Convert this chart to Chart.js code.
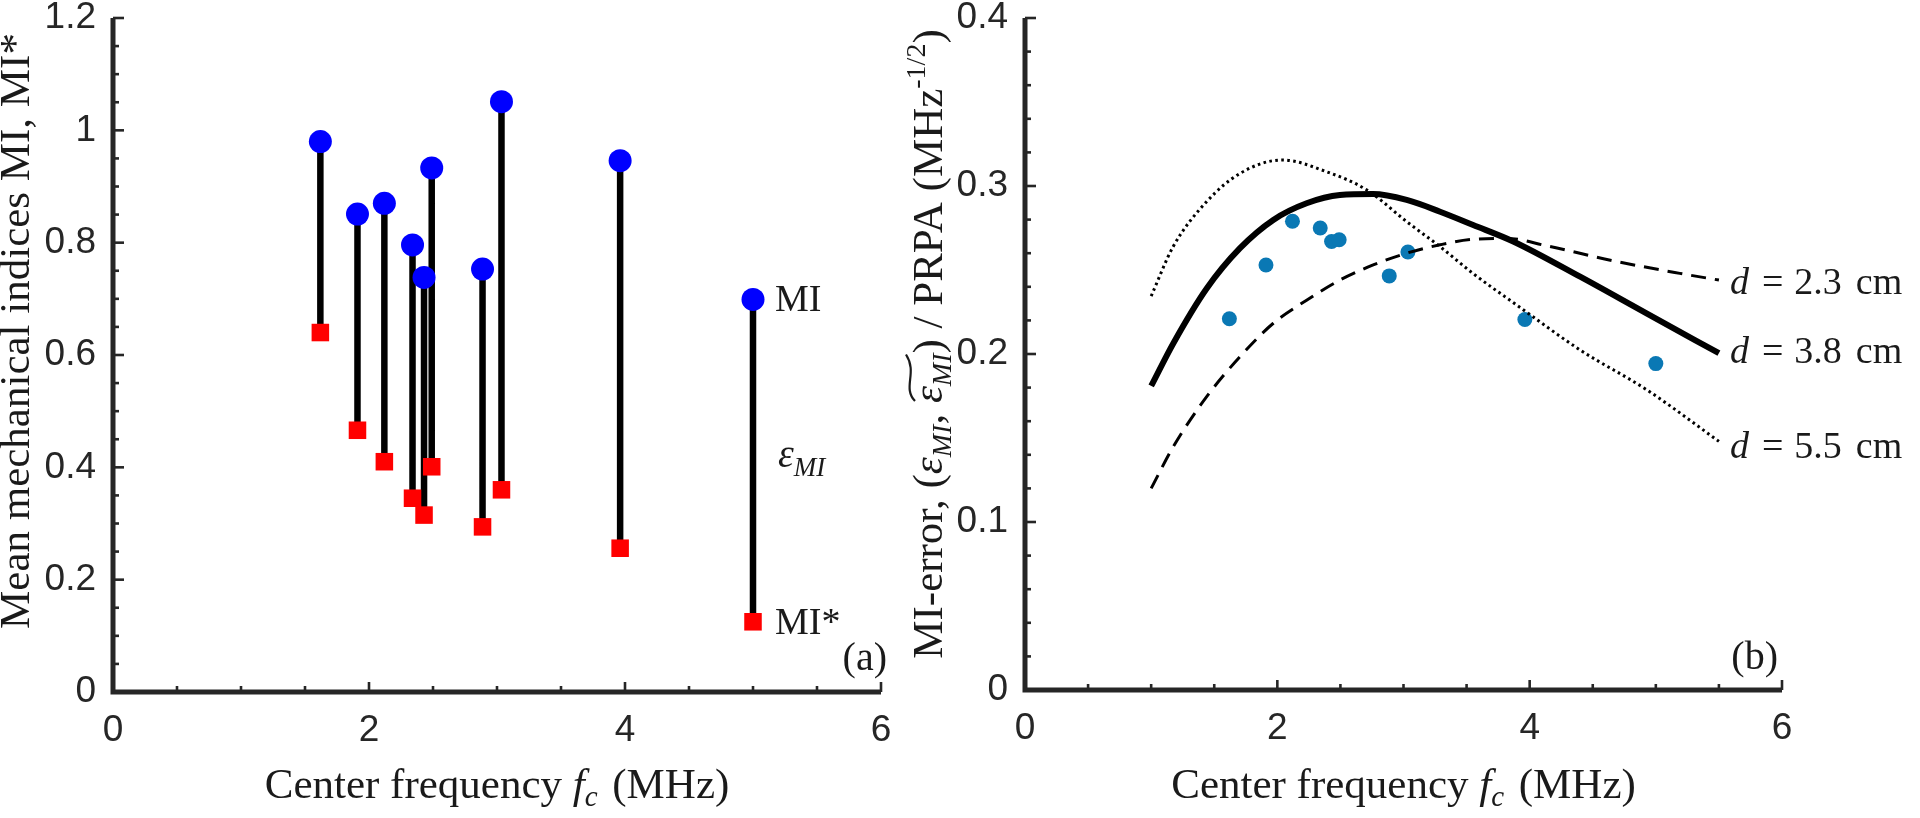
<!DOCTYPE html>
<html>
<head>
<meta charset="utf-8">
<script src="https://cdn.jsdelivr.net/npm/chart.js@4.4.1/dist/chart.umd.min.js"></script>
<style>
html,body{margin:0;padding:0;background:#fff;width:1920px;height:818px;overflow:hidden}
#cA{position:absolute;left:0;top:0}
#cB{position:absolute;left:880px;top:0}
</style>
</head>
<body>
<canvas id="cA" width="960" height="818"></canvas>
<canvas id="cB" width="1040" height="818"></canvas>
<script>
// ---------- data ----------
const freq       = [1.62, 1.91, 2.12, 2.34, 2.43, 2.49, 2.887, 3.035, 3.962, 5.0];
const miValues   = [0.980, 0.851, 0.870, 0.796, 0.738, 0.933, 0.753, 1.051, 0.946, 0.699];
const miStar     = [0.640, 0.466, 0.410, 0.345, 0.315, 0.401, 0.294, 0.360, 0.256, 0.125];
const miError    = [0.221, 0.253, 0.279, 0.275, 0.267, 0.268, 0.2465, 0.2607, 0.2205, 0.1943];

const curve23X = [1.0, 1.175, 1.44, 1.704, 1.968, 2.232, 2.496, 2.76, 3.025, 3.29, 3.552, 3.82, 4.13, 4.66, 5.19, 5.5];
const curve23Y = [0.120, 0.1448, 0.1746, 0.1984, 0.2183, 0.232, 0.244, 0.253, 0.260, 0.265, 0.2683, 0.2688, 0.2645, 0.2555, 0.248, 0.244];
const curve38X = [1.0, 1.175, 1.44, 1.704, 1.968, 2.232, 2.496, 2.76, 3.025, 3.29, 3.552, 3.87, 4.40, 4.93, 5.5];
const curve38Y = [0.181, 0.2063, 0.239, 0.263, 0.2798, 0.2897, 0.2946, 0.2952, 0.2917, 0.2847, 0.2768, 0.267, 0.246, 0.224, 0.2005];
const curve55X = [1.0, 1.175, 1.44, 1.704, 2.04, 2.39, 2.71, 3.025, 3.29, 3.55, 3.9, 4.4, 4.93, 5.5];
const curve55Y = [0.2345, 0.264, 0.2907, 0.3075, 0.3155, 0.3085, 0.2976, 0.2788, 0.2639, 0.248, 0.229, 0.2024, 0.1786, 0.148];
const depthLabels = ['2.3', '3.8', '5.5'];

const xRange = [0, 6];   const xMajor = 2;   const xMinor = 0.5;
const yRangeA = [0, 1.2]; const yMajorA = 0.2; const yMinorA = 0.05;
const yRangeB = [0, 0.4]; const yMajorB = 0.1; const yMinorB = 0.02;

// ---------- styling ----------
const AXIS = '#262626';
const TEXT = '#1a1a1a';
const SERIF = '"Liberation Serif", "Times New Roman", serif';
const SANS = '"Liberation Sans", Arial, sans-serif';
Chart.defaults.font.family = SANS;
Chart.defaults.color = AXIS;

function sf(size, italic) { return (italic ? 'italic ' : '') + size + 'px ' + SERIF; }
function steps(a, b, s) { const out = []; const n = Math.round((b - a) / s); for (let i = 0; i <= n; i++) out.push(+(a + i * s).toFixed(6)); return out; }

function drawRich(ctx, parts, x, y, align, rot) {
  ctx.save();
  ctx.translate(x, y);
  if (rot) ctx.rotate(rot);
  ctx.textBaseline = 'alphabetic';
  ctx.textAlign = 'left';
  ctx.fillStyle = TEXT;
  ctx.strokeStyle = TEXT;
  const ws = parts.map(p => { if (p.gap !== undefined) return p.gap; ctx.font = p.font; return ctx.measureText(p.t).width; });
  const total = ws.reduce((a, b) => a + b, 0);
  let cx = align === 'center' ? -total / 2 : (align === 'right' ? -total : 0);
  const marks = {};
  parts.forEach((p, i) => {
    if (p.mark) marks[p.mark] = cx;
    if (p.t) { ctx.font = p.font; ctx.fillText(p.t, cx, p.dy || 0); }
    cx += ws[i];
  });
  if (marks.ts !== undefined && marks.te !== undefined) {
    const a = marks.ts + 2, b = marks.te - 1, w = b - a;
    ctx.lineWidth = 2.2;
    ctx.beginPath();
    ctx.moveTo(a, -27);
    ctx.bezierCurveTo(a + w * 0.3, -40, a + w * 0.6, -24, b, -36);
    ctx.stroke();
  }
  ctx.restore();
}

const matAxes = {
  id: 'matAxes',
  afterDatasetsDraw(chart, args, o) {
    const { ctx, chartArea: ca, scales: { x, y } } = chart;
    ctx.save();
    ctx.strokeStyle = AXIS;
    ctx.lineCap = 'butt';
    ctx.lineWidth = 2.6;
    const isMajor = (v, s) => Math.abs(v / s - Math.round(v / s)) < 1e-6;
    steps(x.min, x.max, o.xMinor).forEach(v => {
      if (v === x.min) return;
      const px = x.getPixelForValue(v);
      const L = isMajor(v, o.xMajor) ? 10 : 6;
      ctx.beginPath(); ctx.moveTo(px, ca.bottom); ctx.lineTo(px, ca.bottom - L); ctx.stroke();
    });
    steps(y.min, y.max, o.yMinor).forEach(v => {
      if (v === y.min) return;
      const py = y.getPixelForValue(v);
      const L = isMajor(v, o.yMajor) ? 11 : 6;
      ctx.beginPath(); ctx.moveTo(ca.left, py); ctx.lineTo(ca.left + L, py); ctx.stroke();
    });
    ctx.lineWidth = 5;
    ctx.lineJoin = 'miter';
    ctx.beginPath();
    ctx.moveTo(ca.left, ca.top);
    ctx.lineTo(ca.left, ca.bottom);
    ctx.lineTo(ca.right, ca.bottom);
    ctx.stroke();
    ctx.restore();
  }
};

function scaleFix(kind, size) {
  return s => {
    if (kind === 'x') s.height = size; else s.width = size;
    s.paddingTop = 0; s.paddingBottom = 0; s.paddingLeft = 0; s.paddingRight = 0;
  };
}
const fmt = v => String(+Number(v).toFixed(3));

// ---------- left chart (a) ----------
const stemData = [];
freq.forEach((f, i) => {
  stemData.push({ x: f, y: miStar[i] }, { x: f, y: miValues[i] }, { x: f, y: null });
});

const textA = {
  id: 'textA',
  afterDraw(chart) {
    const { ctx, chartArea: ca, scales: { x, y } } = chart;
    const n = freq.length - 1;
    const lx = x.getPixelForValue(freq[n]);
    drawRich(ctx, [{ t: 'Mean mechanical indices MI, MI*', font: sf(43) }], 29, 331, 'center', -Math.PI / 2);
    drawRich(ctx, [
      { t: 'Center frequency ', font: sf(43) },
      { t: 'f', font: sf(43, true) },
      { t: 'c', font: sf(29, true), dy: 8 },
      { gap: 4 },
      { t: ' (MHz)', font: sf(43) }
    ], (ca.left + ca.right) / 2, 798, 'center');
    drawRich(ctx, [{ t: 'MI', font: sf(38) }], lx + 22, y.getPixelForValue(miValues[n]) + 12, 'left');
    drawRich(ctx, [{ t: 'MI*', font: sf(38) }], lx + 22, y.getPixelForValue(miStar[n]) + 12, 'left');
    drawRich(ctx, [
      { t: 'ε', font: sf(40, true) },
      { t: 'MI', font: sf(27, true), dy: 9 }
    ], lx + 25, 467, 'left');
    drawRich(ctx, [{ t: '(a)', font: sf(40) }], ca.right + 6, 670, 'right');
  }
};

new Chart(document.getElementById('cA'), {
  type: 'scatter',
  data: {
    datasets: [
      { type: 'line', data: stemData, showLine: true, spanGaps: false, borderColor: '#000', borderWidth: 6.5,
        borderCapStyle: 'butt', pointRadius: 0, order: 3 },
      { data: freq.map((f, i) => ({ x: f, y: miStar[i] })), pointStyle: 'rect', pointRadius: 12.4,
        backgroundColor: '#ff0000', borderWidth: 0, order: 2 },
      { data: freq.map((f, i) => ({ x: f, y: miValues[i] })), pointStyle: 'circle', pointRadius: 11.5,
        backgroundColor: '#0000ff', borderWidth: 0, order: 1 }
    ]
  },
  options: {
    responsive: false, animation: false, devicePixelRatio: 1, events: [],
    layout: { padding: { left: 0, right: 79, top: 18, bottom: 0 } },
    plugins: { legend: { display: false }, tooltip: { enabled: false },
      matAxes: { xMajor: xMajor, xMinor: xMinor, yMajor: yMajorA, yMinor: yMinorA } },
    scales: {
      x: { type: 'linear', min: xRange[0], max: xRange[1],
        ticks: { stepSize: xMajor, padding: 17, color: AXIS, font: { size: 37 }, callback: fmt },
        grid: { display: false, drawTicks: false }, border: { display: false },
        afterFit: scaleFix('x', 126) },
      y: { type: 'linear', min: yRangeA[0], max: yRangeA[1],
        ticks: { stepSize: yMajorA, padding: 17, color: AXIS, font: { size: 37 }, callback: fmt },
        grid: { display: false, drawTicks: false }, border: { display: false },
        afterFit: scaleFix('y', 113) }
    }
  },
  plugins: [matAxes, textA]
});

// ---------- right chart (b) ----------
const textB = {
  id: 'textB',
  afterDraw(chart) {
    const { ctx, chartArea: ca, scales: { x, y } } = chart;
    drawRich(ctx, [
      { t: 'MI-error, (', font: sf(43) },
      { t: 'ε', font: sf(43, true) },
      { t: 'MI', font: sf(28, true), dy: 9 },
      { t: ', ', font: sf(43) },
      { mark: 'ts', gap: 0 },
      { t: 'ε', font: sf(43, true) },
      { t: 'MI', font: sf(28, true), dy: 9 },
      { mark: 'te', gap: 0 },
      { t: ') / PRPA (MHz', font: sf(43) },
      { t: '-1/2', font: sf(28), dy: -17 },
      { t: ')', font: sf(43) }
    ], 62, 344, 'center', -Math.PI / 2);
    drawRich(ctx, [
      { t: 'Center frequency ', font: sf(43) },
      { t: 'f', font: sf(43, true) },
      { t: 'c', font: sf(29, true), dy: 8 },
      { gap: 4 },
      { t: ' (MHz)', font: sf(43) }
    ], (ca.left + ca.right) / 2, 798, 'center');
    const ends = [
      [curve23X[curve23X.length - 1], curve23Y[curve23Y.length - 1], 1],
      [curve38X[curve38X.length - 1], curve38Y[curve38Y.length - 1], -3],
      [curve55X[curve55X.length - 1], curve55Y[curve55Y.length - 1], 4]
    ];
    ends.forEach((e, i) => {
      drawRich(ctx, [
        { t: 'd', font: sf(38, true) }, { gap: 13 },
        { t: '=', font: sf(38) }, { gap: 11 },
        { t: depthLabels[i], font: sf(38) }, { gap: 14 },
        { t: 'cm', font: sf(38) }
      ], x.getPixelForValue(e[0]) + 11, y.getPixelForValue(e[1]) + e[2] + 13, 'left');
    });
    drawRich(ctx, [{ t: '(b)', font: sf(40) }], ca.right - 4, 669, 'right');
  }
};

new Chart(document.getElementById('cB'), {
  type: 'scatter',
  data: {
    datasets: [
      { data: freq.map((f, i) => ({ x: f, y: miError[i] })), pointStyle: 'circle', pointRadius: 7.5,
        backgroundColor: '#0a78b4', borderWidth: 0, order: 5 },
      { type: 'line', data: curve38X.map((v, i) => ({ x: v, y: curve38Y[i] })), showLine: true,
        borderColor: '#000', borderWidth: 6, pointRadius: 0, cubicInterpolationMode: 'monotone', order: 1 },
      { type: 'line', data: curve23X.map((v, i) => ({ x: v, y: curve23Y[i] })), showLine: true,
        borderColor: '#000', borderWidth: 3, borderDash: [15, 9], pointRadius: 0, cubicInterpolationMode: 'monotone', order: 2 },
      { type: 'line', data: curve55X.map((v, i) => ({ x: v, y: curve55Y[i] })), showLine: true,
        borderColor: '#000', borderWidth: 3, borderDash: [2.6, 3.4], pointRadius: 0, cubicInterpolationMode: 'monotone', order: 3 }
    ]
  },
  options: {
    responsive: false, animation: false, devicePixelRatio: 1, events: [],
    layout: { padding: { left: 0, right: 138, top: 18, bottom: 0 } },
    plugins: { legend: { display: false }, tooltip: { enabled: false },
      matAxes: { xMajor: xMajor, xMinor: xMinor, yMajor: yMajorB, yMinor: yMinorB } },
    scales: {
      x: { type: 'linear', min: xRange[0], max: xRange[1],
        ticks: { stepSize: xMajor, padding: 17, color: AXIS, font: { size: 37 }, callback: fmt },
        grid: { display: false, drawTicks: false }, border: { display: false },
        afterFit: scaleFix('x', 128) },
      y: { type: 'linear', min: yRangeB[0], max: yRangeB[1],
        ticks: { stepSize: yMajorB, padding: 17, color: AXIS, font: { size: 37 }, callback: fmt },
        grid: { display: false, drawTicks: false }, border: { display: false },
        afterFit: scaleFix('y', 145) }
    }
  },
  plugins: [matAxes, textB]
});
</script>
</body>
</html>
